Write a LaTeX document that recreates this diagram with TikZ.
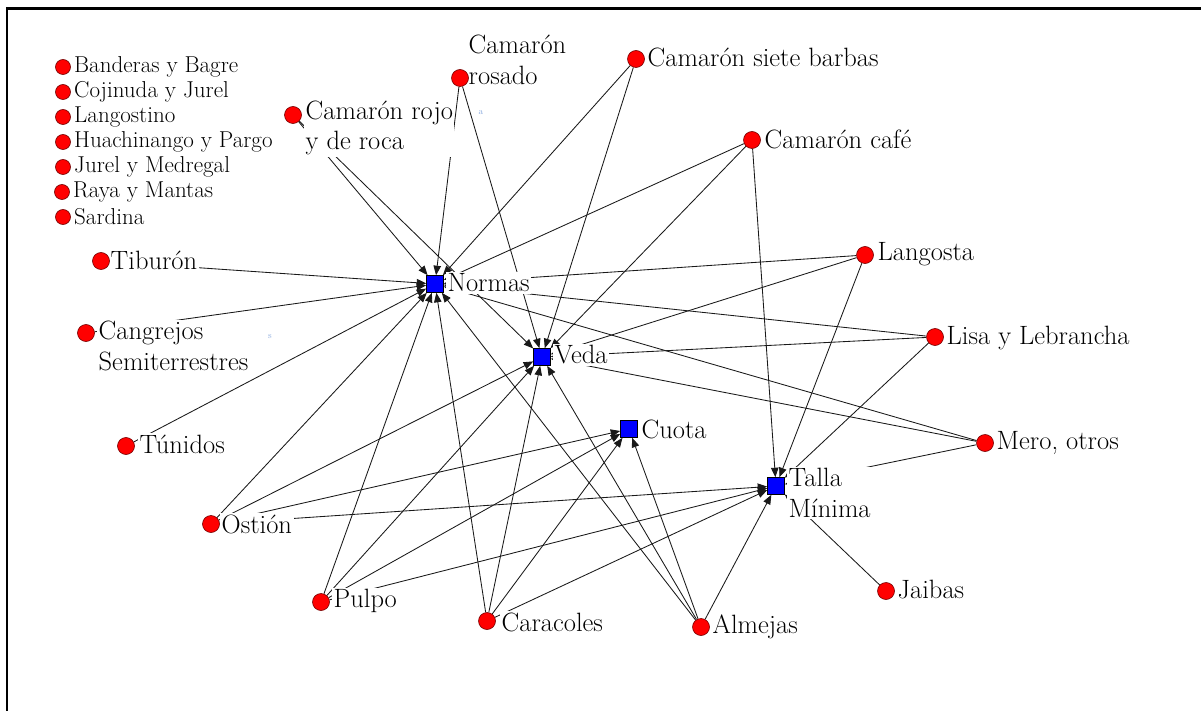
\documentclass[tikz,border=0pt]{standalone}
\usepackage{fontspec}
\usetikzlibrary{arrows.meta}
\pgfdeclarelayer{edges}
\pgfsetlayers{edges,main}
\tikzset{
  sp/.style={circle, fill=red, draw=black!55!red, line width=0.6pt, minimum size=17pt, inner sep=0pt},
  spsmall/.style={sp, minimum size=15pt},
  rulebox/.style={rectangle, fill=blue, draw=black, line width=0.6pt, minimum size=17pt, inner sep=0pt},
  lab/.style={fill=white, inner sep=1.5pt, anchor=west, font=\fontsize{26.5}{30.5}\selectfont, align=left, text=black},
  slab/.style={anchor=west, inner sep=1pt, font=\fontsize{23}{25}\selectfont, text=black},
  link/.style={draw=black!90, line width=0.85pt, -{Triangle[length=9.5pt,width=7.5pt]}},
  artefact/.style={inner sep=0pt, text=cyan!50!blue!45, font=\fontsize{9}{10}\selectfont},
}
\begin{document}
\begin{tikzpicture}[x=1pt,y=-1pt]
\useasboundingbox (0,0) rectangle (1201,711);

% labels (opaque, hide connectors behind them)
\node[slab] (banL) at (73,67) {Banderas y Bagre};
\node[slab] (cojL) at (73,92) {Cojinuda y Jurel};
\node[slab] (lgtL) at (73,117) {Langostino};
\node[slab] (huaL) at (73,142) {Huachinango y Pargo};
\node[slab] (jurL) at (73,167) {Jurel y Medregal};
\node[slab] (rayL) at (72,192) {Raya y Mantas};
\node[slab] (sarL) at (73,217) {Sardina};

\node[lab] (rosadoL) at (467,60) {Camarón\\rosado};
\node[lab] (rojoL) at (304,128) {Camarón rojo\\y de roca};
\node[lab] (sieteL) at (646,57) {Camarón siete barbas};
\node[lab] (cafeL) at (763,139) {Camarón café};
\node[lab] (tibL) at (109,260) {Tiburón};
\node[lab] (lgsL) at (876,254) {Langosta};
\node[lab] (normasL) at (446,283) {Normas};
\node[lab] (cangL) at (97,346) {Cangrejos\\Semiterrestres};
\node[lab] (lisaL) at (945,338) {Lisa y Lebrancha};
\node[lab] (vedaL) at (553,355) {Veda};
\node[lab] (tunL) at (138,444) {Túnidos};
\node[lab] (cuotaL) at (640,429) {Cuota};
\node[lab] (meroL) at (995,443) {Mero, otros};
\node[lab] (tallaL) at (787,493) {Talla\\Mínima};
\node[lab] (ostL) at (220,524) {Ostión};
\node[lab] (pulL) at (332,601) {Pulpo};
\node[lab] (carL) at (500,622) {Caracoles};
\node[lab] (almL) at (711,627) {Almejas};
\node[lab] (jaiL) at (896,590) {Jaibas};

\node[artefact] (art1) at (270,337) {s};
\node[artefact] (art2) at (481,113) {a};

% nodes
\node[spsmall] (ban) at (63,67) {};
\node[spsmall] (coj) at (63,92) {};
\node[spsmall] (lgt) at (63,117) {};
\node[spsmall] (hua) at (63,142) {};
\node[spsmall] (jur) at (63,167) {};
\node[spsmall] (ray) at (62,192) {};
\node[spsmall] (sar) at (63,217) {};

\node[sp] (rosado) at (460,78) {};
\node[sp] (rojo) at (293,115) {};
\node[sp] (siete) at (636,59) {};
\node[sp] (cafe) at (752,140) {};
\node[sp] (tib) at (101,261) {};
\node[sp] (lgs) at (865,255) {};
\node[sp] (cang) at (86,333) {};
\node[sp] (lisa) at (935,337) {};
\node[sp] (tun) at (126,446) {};
\node[sp] (mero) at (985,443) {};
\node[sp] (ost) at (211,524) {};
\node[sp] (pul) at (321,602) {};
\node[sp] (car) at (487,621) {};
\node[sp] (alm) at (701,627) {};
\node[sp] (jai) at (886,591) {};

\node[rulebox] (normas) at (435,284) {};
\node[rulebox] (veda) at (542,357) {};
\node[rulebox] (cuota) at (629,429) {};
\node[rulebox] (talla) at (776,486) {};

% frame
\draw[line width=2.2pt] (7,711) -- (7,8.5) -- (1201,8.5);

\begin{pgfonlayer}{edges}
\fill[white] (0,0) rectangle (1201,711);
\foreach \s in {rojo,rosado,siete,cafe,lgs,lisa,mero,tib,cang,tun,ost,pul,car,alm}
  \draw[link] (\s) -- (normas);
\foreach \s in {rojo,rosado,siete,cafe,lgs,lisa,mero,ost,pul,car,alm}
  \draw[link] (\s) -- (veda);
\foreach \s in {ost,pul,car,alm}
  \draw[link] (\s) -- (cuota);
\foreach \s in {cafe,lgs,lisa,mero,ost,pul,car,alm,jai}
  \draw[link] (\s) -- (talla);
\end{pgfonlayer}
\end{tikzpicture}
\end{document}
